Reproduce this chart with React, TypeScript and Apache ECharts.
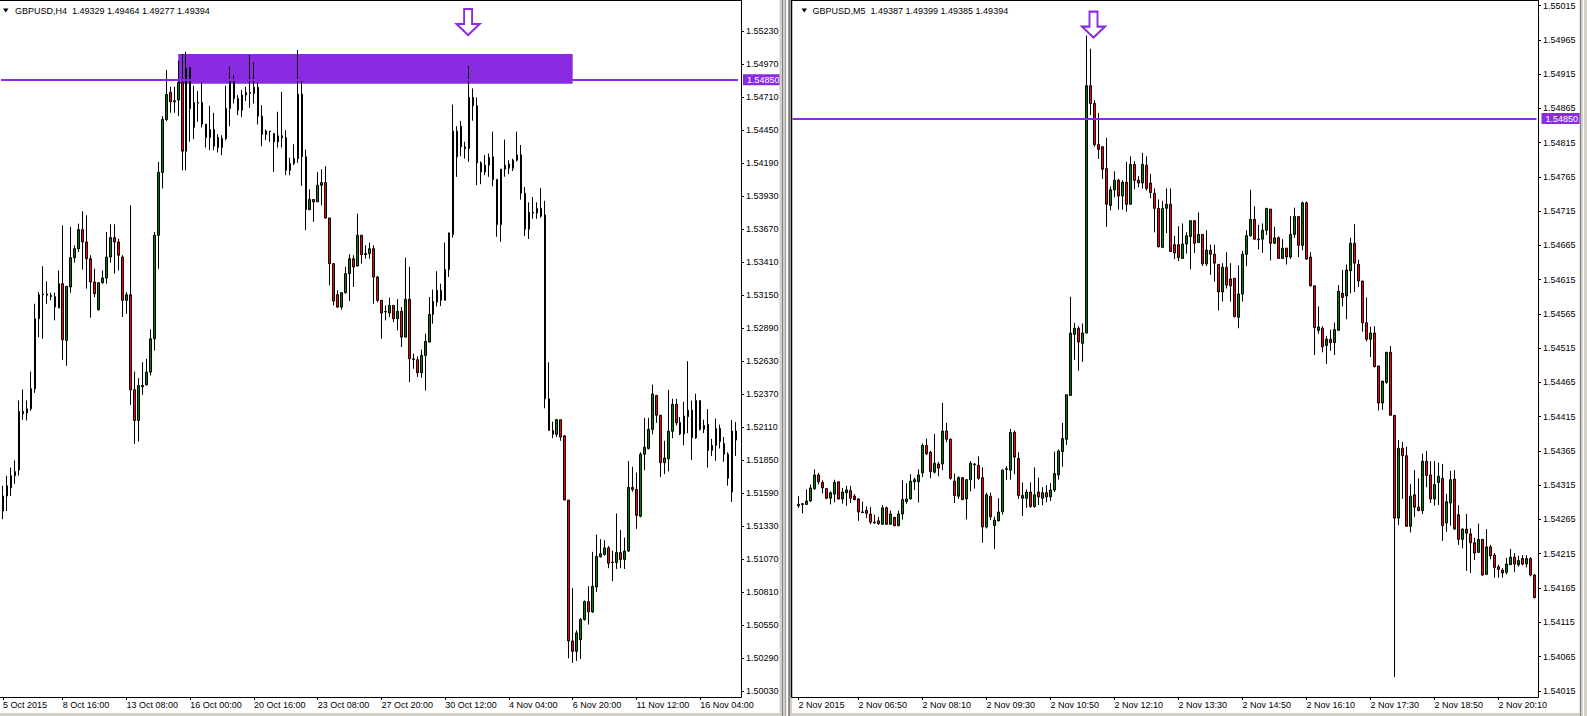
import React, { useEffect, useRef } from "react";
import * as echarts from "echarts";

// ---------- GBPUSD H4 (left window) ----------
const h4Open = [
  1.51450,1.51569,1.51633,1.51729,1.51774,1.52235,1.52224,1.52256,1.52414,1.52966,
  1.53155,1.53160,1.53150,1.53140,1.53050,1.53242,1.52795,1.53216,1.53447,1.53518,
  1.53668,1.53571,1.53439,1.53255,1.53037,1.53250,1.53287,1.53452,1.53605,1.53571,
  1.53452,1.53111,1.53155,1.52406,1.52164,1.52430,1.52445,1.52545,1.52808,1.53623,
  1.54118,1.54536,1.54749,1.54675,1.54689,1.54828,1.54286,1.54946,1.54473,1.54670,
  1.54670,1.54499,1.54394,1.54457,1.54394,1.54315,1.54386,1.54623,1.54833,1.54702,
  1.54610,1.54728,1.54749,1.54741,1.54789,1.54562,1.54418,1.54444,1.54426,1.54360,
  1.54407,1.54394,1.54136,1.54189,1.54228,1.54736,1.54242,1.53826,1.53905,1.53887,
  1.54018,1.54039,1.53760,1.53400,1.53155,1.53058,1.53171,1.53321,1.53439,1.53381,
  1.53624,1.53471,1.53479,1.53518,1.53295,1.53111,1.53024,1.53011,1.53071,1.52966,
  1.53024,1.52821,1.53119,1.52650,1.52643,1.52540,1.52677,1.52782,1.53000,1.53097,
  1.53190,1.53111,1.53353,1.53629,1.54444,1.54483,1.54320,1.54307,1.54710,1.54644,
  1.54194,1.54123,1.54176,1.54242,1.54064,1.53708,1.54145,1.54185,1.54152,1.54215,
  1.54257,1.53955,1.53672,1.53805,1.53799,1.53835,1.53784,1.52335,1.52085,1.52055,
  1.52170,1.52043,1.51537,1.50427,1.50345,1.50436,1.50596,1.50737,1.50656,1.50852,
  1.51090,1.51108,1.51160,1.51048,1.51045,1.51123,1.51069,1.51135,1.51636,1.51621,
  1.51410,1.51898,1.51944,1.52094,1.52360,1.52206,1.51832,1.51862,1.52079,1.52291,
  1.52149,1.52058,1.52194,1.52245,1.52028,1.52321,1.52094,1.52134,1.51929,1.51968,
  1.52101,1.51983,1.51898,1.51600,1.52081,
];
const h4High = [
  1.51649,1.51729,1.51793,1.51849,1.52322,1.52408,1.52322,1.52550,1.53084,1.53176,
  1.53379,1.53261,1.53171,1.53171,1.53347,1.53702,1.53221,1.53689,1.53544,1.53715,
  1.53813,1.53781,1.53466,1.53360,1.53255,1.53347,1.53650,1.53710,1.53710,1.53597,
  1.53466,1.53176,1.53860,1.52550,1.52498,1.52624,1.52650,1.52882,1.53650,1.54202,
  1.54562,1.54925,1.54794,1.54794,1.54999,1.55052,1.55070,1.54946,1.54802,1.54760,
  1.54828,1.54499,1.54644,1.54589,1.54420,1.54412,1.54802,1.54952,1.54886,1.54728,
  1.54768,1.54794,1.55044,1.54986,1.54828,1.54649,1.54457,1.54444,1.54426,1.54597,
  1.54754,1.54452,1.54236,1.54341,1.55083,1.54852,1.54299,1.53986,1.53905,1.54123,
  1.54144,1.54168,1.53760,1.53400,1.53190,1.53171,1.53374,1.53474,1.53466,1.53794,
  1.53624,1.53545,1.53566,1.53545,1.53303,1.53111,1.53071,1.53132,1.53071,1.53119,
  1.53058,1.53447,1.53374,1.52690,1.52669,1.52722,1.52848,1.53137,1.53195,1.53340,
  1.53242,1.53566,1.53645,1.54654,1.54483,1.54523,1.54360,1.54957,1.54781,1.54710,
  1.54207,1.54255,1.54268,1.54441,1.54064,1.54145,1.54378,1.54215,1.54227,1.54441,
  1.54335,1.54004,1.53883,1.53925,1.53883,1.53995,1.53895,1.52622,1.52155,1.52176,
  1.52170,1.52049,1.51537,1.50843,1.50511,1.50608,1.50746,1.50858,1.51129,1.51265,
  1.51229,1.51220,1.51175,1.51138,1.51431,1.51301,1.51241,1.51844,1.51799,1.51754,
  1.51913,1.52185,1.52185,1.52447,1.52366,1.52206,1.52004,1.52405,1.52335,1.52335,
  1.52191,1.52312,1.52631,1.52321,1.52375,1.52321,1.52170,1.52254,1.52019,1.52179,
  1.52131,1.52034,1.51913,1.52168,1.52152,
];
const h4Low = [
  1.51386,1.51450,1.51569,1.51665,1.51730,1.52169,1.52164,1.52240,1.52382,1.52821,
  1.52808,1.53084,1.53111,1.52953,1.53050,1.52642,1.52595,1.53171,1.53408,1.53492,
  1.53353,1.53203,1.52974,1.53137,1.53030,1.53242,1.53242,1.53408,1.53321,1.53347,
  1.52979,1.53005,1.52287,1.51980,1.51998,1.52366,1.52440,1.52519,1.52716,1.53360,
  1.53992,1.54523,1.54589,1.54589,1.54562,1.54136,1.54136,1.54360,1.54381,1.54518,
  1.54473,1.54315,1.54294,1.54294,1.54276,1.54255,1.54373,1.54483,1.54662,1.54570,
  1.54557,1.54681,1.54628,1.54662,1.54497,1.54326,1.54373,1.54360,1.54123,1.54315,
  1.54315,1.54097,1.54097,1.54176,1.54194,1.54013,1.53663,1.53821,1.53729,1.53887,
  1.53860,1.53755,1.53229,1.53071,1.53050,1.53037,1.53164,1.53105,1.53216,1.53381,
  1.53400,1.53439,1.53439,1.53084,1.53097,1.52808,1.52953,1.52979,1.52940,1.52874,
  1.52743,1.52821,1.52466,1.52572,1.52506,1.52500,1.52400,1.52782,1.52927,1.53063,
  1.53066,1.53111,1.53295,1.53605,1.54084,1.54247,1.54228,1.54202,1.54526,1.54018,
  1.54026,1.54097,1.54084,1.54010,1.53612,1.53572,1.54085,1.54106,1.54130,1.54206,
  1.53904,1.53618,1.53594,1.53753,1.53753,1.53762,1.52260,1.52085,1.52025,1.52034,
  1.52004,1.51537,1.50290,1.50254,1.50270,1.50285,1.50587,1.50556,1.50647,1.50813,
  1.51084,1.51099,1.51000,1.50897,1.50994,1.51000,1.50994,1.51129,1.51603,1.51310,
  1.51401,1.51772,1.51935,1.52055,1.52146,1.51718,1.51742,1.51763,1.52025,1.52125,
  1.52049,1.51968,1.52064,1.51853,1.52019,1.52085,1.52064,1.51793,1.51883,1.51847,
  1.51944,1.51838,1.51651,1.51522,1.51884,
];
const h4Close = [
  1.51569,1.51649,1.51729,1.51761,1.52235,1.52216,1.52256,1.52414,1.52966,1.53155,
  1.53160,1.53150,1.53140,1.53058,1.53242,1.52800,1.53221,1.53447,1.53518,1.53668,
  1.53571,1.53439,1.53255,1.53163,1.53250,1.53287,1.53452,1.53605,1.53571,1.53466,
  1.53111,1.53155,1.52406,1.52164,1.52440,1.52440,1.52545,1.52808,1.53623,1.54118,
  1.54536,1.54733,1.54675,1.54683,1.54828,1.54286,1.54938,1.54623,1.54670,1.54665,
  1.54499,1.54394,1.54457,1.54326,1.54315,1.54386,1.54623,1.54833,1.54702,1.54610,
  1.54728,1.54749,1.54741,1.54789,1.54562,1.54418,1.54444,1.54439,1.54360,1.54407,
  1.54391,1.54136,1.54189,1.54228,1.54736,1.54242,1.53826,1.53905,1.53887,1.54018,
  1.54039,1.53760,1.53400,1.53105,1.53058,1.53171,1.53321,1.53439,1.53374,1.53624,
  1.53471,1.53479,1.53518,1.53295,1.53111,1.53011,1.53020,1.53071,1.52966,1.53024,
  1.52821,1.53119,1.52650,1.52645,1.52540,1.52677,1.52787,1.53000,1.53103,1.53190,
  1.53111,1.53353,1.53642,1.54444,1.54242,1.54320,1.54307,1.54710,1.54644,1.54194,
  1.54123,1.54176,1.54236,1.54064,1.53708,1.54145,1.54176,1.54152,1.54215,1.54257,
  1.53955,1.53672,1.53805,1.53800,1.53835,1.53774,1.52335,1.52085,1.52055,1.52170,
  1.52034,1.51537,1.50427,1.50345,1.50490,1.50596,1.50737,1.50656,1.50858,1.51093,
  1.51114,1.51160,1.51039,1.51045,1.51123,1.51069,1.51135,1.51636,1.51621,1.51416,
  1.51898,1.51953,1.52094,1.52372,1.52206,1.51832,1.51868,1.52079,1.52291,1.52146,
  1.52058,1.52200,1.52245,1.52028,1.52321,1.52094,1.52125,1.51929,1.51968,1.52101,
  1.51998,1.51898,1.51709,1.52081,1.52010,
];

// ---------- GBPUSD M5 (right window) ----------
const m5Open = [
  1.54287,1.54288,1.54287,1.54292,1.54310,1.54330,1.54319,1.54310,1.54296,1.54302,
  1.54320,1.54295,1.54304,1.54307,1.54299,1.54295,1.54276,1.54278,1.54273,1.54261,
  1.54263,1.54258,1.54282,1.54258,1.54268,1.54256,1.54273,1.54291,1.54295,1.54320,
  1.54320,1.54333,1.54373,1.54363,1.54334,1.54346,1.54346,1.54394,1.54382,1.54321,
  1.54299,1.54326,1.54295,1.54323,1.54346,1.54344,1.54326,1.54254,1.54299,1.54256,
  1.54263,1.54276,1.54339,1.54337,1.54392,1.54354,1.54296,1.54296,1.54305,1.54284,
  1.54305,1.54296,1.54304,1.54298,1.54308,1.54330,1.54364,1.54382,1.54446,1.54535,
  1.54544,1.54522,1.54537,1.54898,1.54872,1.54812,1.54809,1.54777,1.54723,1.54746,
  1.54760,1.54737,1.54757,1.54725,1.54783,1.54760,1.54756,1.54782,1.54756,1.54741,
  1.54719,1.54662,1.54719,1.54725,1.54666,1.54666,1.54646,1.54667,1.54678,1.54701,
  1.54669,1.54681,1.54638,1.54658,1.54652,1.54637,1.54597,1.54633,1.54616,1.54617,
  1.54560,1.54594,1.54652,1.54679,1.54703,1.54674,1.54674,1.54687,1.54718,1.54668,
  1.54676,1.54646,1.54661,1.54648,1.54681,1.54707,1.54665,1.54727,1.54648,1.54606,
  1.54541,1.54544,1.54519,1.54528,1.54523,1.54541,1.54595,1.54591,1.54628,1.54668,
  1.54637,1.54613,1.54552,1.54528,1.54537,1.54489,1.54435,1.54465,1.54509,1.54417,
  1.54267,1.54369,1.54358,1.54255,1.54301,1.54283,1.54278,1.54350,1.54330,1.54295,
  1.54319,1.54325,1.54260,1.54289,1.54324,1.54272,1.54236,1.54251,1.54244,1.54231,
  1.54217,1.54236,1.54185,1.54225,1.54213,1.54196,1.54191,1.54188,1.54199,1.54210,
  1.54199,1.54208,1.54200,1.54208,1.54184,
];
const m5High = [
  1.54299,1.54289,1.54309,1.54316,1.54338,1.54333,1.54322,1.54311,1.54306,1.54323,
  1.54320,1.54311,1.54314,1.54314,1.54302,1.54296,1.54291,1.54284,1.54283,1.54272,
  1.54269,1.54286,1.54284,1.54278,1.54269,1.54278,1.54322,1.54318,1.54331,1.54326,
  1.54338,1.54376,1.54383,1.54365,1.54390,1.54349,1.54435,1.54406,1.54383,1.54332,
  1.54328,1.54327,1.54324,1.54350,1.54347,1.54357,1.54341,1.54304,1.54304,1.54269,
  1.54296,1.54338,1.54343,1.54397,1.54395,1.54363,1.54319,1.54309,1.54319,1.54341,
  1.54326,1.54312,1.54315,1.54318,1.54364,1.54367,1.54406,1.54447,1.54590,1.54552,
  1.54547,1.54551,1.54971,1.54952,1.54877,1.54858,1.54809,1.54822,1.54751,1.54773,
  1.54762,1.54760,1.54787,1.54795,1.54788,1.54766,1.54800,1.54795,1.54769,1.54748,
  1.54732,1.54730,1.54748,1.54748,1.54679,1.54693,1.54697,1.54684,1.54701,1.54701,
  1.54713,1.54681,1.54687,1.54666,1.54666,1.54637,1.54639,1.54655,1.54639,1.54617,
  1.54636,1.54657,1.54687,1.54746,1.54722,1.54695,1.54697,1.54719,1.54718,1.54692,
  1.54678,1.54674,1.54661,1.54708,1.54720,1.54707,1.54729,1.54729,1.54655,1.54606,
  1.54576,1.54547,1.54533,1.54542,1.54552,1.54607,1.54629,1.54637,1.54676,1.54696,
  1.54644,1.54613,1.54589,1.54546,1.54547,1.54489,1.54467,1.54509,1.54518,1.54417,
  1.54381,1.54378,1.54371,1.54317,1.54337,1.54325,1.54361,1.54365,1.54350,1.54350,
  1.54348,1.54346,1.54302,1.54336,1.54337,1.54286,1.54252,1.54273,1.54252,1.54238,
  1.54259,1.54236,1.54251,1.54228,1.54216,1.54199,1.54194,1.54209,1.54222,1.54216,
  1.54212,1.54213,1.54213,1.54210,1.54185,
];
const m5Low = [
  1.54282,1.54274,1.54287,1.54291,1.54308,1.54316,1.54303,1.54295,1.54287,1.54290,
  1.54294,1.54288,1.54285,1.54289,1.54293,1.54263,1.54275,1.54267,1.54258,1.54259,
  1.54257,1.54258,1.54257,1.54257,1.54255,1.54255,1.54265,1.54288,1.54294,1.54308,
  1.54290,1.54327,1.54359,1.54325,1.54332,1.54328,1.54337,1.54378,1.54323,1.54289,
  1.54295,1.54293,1.54265,1.54306,1.54310,1.54323,1.54231,1.54252,1.54264,1.54222,
  1.54262,1.54272,1.54323,1.54323,1.54331,1.54295,1.54270,1.54282,1.54282,1.54282,
  1.54286,1.54286,1.54290,1.54292,1.54305,1.54323,1.54342,1.54374,1.54446,1.54498,
  1.54482,1.54495,1.54537,1.54855,1.54809,1.54791,1.54762,1.54692,1.54716,1.54735,
  1.54717,1.54717,1.54714,1.54725,1.54747,1.54750,1.54748,1.54745,1.54734,1.54684,
  1.54662,1.54662,1.54683,1.54656,1.54645,1.54642,1.54646,1.54653,1.54630,1.54654,
  1.54669,1.54635,1.54635,1.54622,1.54612,1.54570,1.54583,1.54602,1.54583,1.54560,
  1.54544,1.54583,1.54635,1.54678,1.54673,1.54659,1.54654,1.54680,1.54643,1.54667,
  1.54646,1.54646,1.54637,1.54645,1.54676,1.54648,1.54658,1.54644,1.54605,1.54505,
  1.54536,1.54509,1.54492,1.54511,1.54505,1.54541,1.54576,1.54557,1.54595,1.54597,
  1.54604,1.54539,1.54525,1.54502,1.54487,1.54424,1.54425,1.54463,1.54417,1.54035,
  1.54257,1.54295,1.54254,1.54246,1.54269,1.54277,1.54273,1.54312,1.54289,1.54285,
  1.54286,1.54234,1.54247,1.54256,1.54250,1.54228,1.54223,1.54190,1.54187,1.54206,
  1.54216,1.54183,1.54184,1.54207,1.54180,1.54180,1.54180,1.54185,1.54199,1.54188,
  1.54196,1.54198,1.54195,1.54182,1.54150,
];
const m5Close = [
  1.54285,1.54287,1.54292,1.54311,1.54330,1.54320,1.54311,1.54296,1.54304,1.54319,
  1.54295,1.54305,1.54308,1.54296,1.54294,1.54276,1.54275,1.54274,1.54261,1.54260,
  1.54259,1.54282,1.54258,1.54273,1.54256,1.54273,1.54294,1.54295,1.54321,1.54323,
  1.54330,1.54373,1.54361,1.54335,1.54347,1.54340,1.54394,1.54382,1.54325,1.54300,
  1.54326,1.54294,1.54323,1.54347,1.54345,1.54325,1.54254,1.54301,1.54269,1.54264,
  1.54276,1.54337,1.54338,1.54392,1.54356,1.54300,1.54300,1.54305,1.54284,1.54301,
  1.54298,1.54304,1.54298,1.54308,1.54332,1.54365,1.54383,1.54447,1.54537,1.54544,
  1.54524,1.54537,1.54898,1.54872,1.54812,1.54805,1.54776,1.54725,1.54746,1.54760,
  1.54737,1.54757,1.54725,1.54783,1.54760,1.54756,1.54783,1.54748,1.54742,1.54719,
  1.54663,1.54719,1.54725,1.54656,1.54654,1.54647,1.54667,1.54679,1.54701,1.54668,
  1.54681,1.54638,1.54658,1.54652,1.54639,1.54597,1.54633,1.54607,1.54606,1.54561,
  1.54594,1.54652,1.54679,1.54703,1.54674,1.54673,1.54687,1.54719,1.54668,1.54676,
  1.54646,1.54661,1.54648,1.54681,1.54707,1.54665,1.54727,1.54645,1.54606,1.54545,
  1.54546,1.54517,1.54528,1.54523,1.54542,1.54598,1.54589,1.54629,1.54668,1.54639,
  1.54613,1.54552,1.54528,1.54537,1.54488,1.54435,1.54467,1.54509,1.54417,1.54267,
  1.54369,1.54358,1.54255,1.54299,1.54283,1.54278,1.54350,1.54329,1.54295,1.54316,
  1.54328,1.54256,1.54291,1.54323,1.54251,1.54236,1.54251,1.54245,1.54231,1.54216,
  1.54236,1.54184,1.54225,1.54212,1.54195,1.54192,1.54187,1.54200,1.54210,1.54200,
  1.54205,1.54200,1.54208,1.54184,1.54151,
];

// ---------- axis texts ----------
const timeLabelBars = [0, 15, 31, 47, 63, 79, 95, 111, 127, 143, 159, 175];
const h4TimeLabels = [
  "5 Oct 2015", "8 Oct 16:00", "13 Oct 08:00", "16 Oct 00:00", "20 Oct 16:00", "23 Oct 08:00",
  "27 Oct 20:00", "30 Oct 12:00", "4 Nov 04:00", "6 Nov 20:00", "11 Nov 12:00", "16 Nov 04:00",
];
const m5TimeLabels = [
  "2 Nov 2015", "2 Nov 06:50", "2 Nov 08:10", "2 Nov 09:30", "2 Nov 10:50", "2 Nov 12:10",
  "2 Nov 13:30", "2 Nov 14:50", "2 Nov 16:10", "2 Nov 17:30", "2 Nov 18:50", "2 Nov 20:10",
];
const h4PriceLabels = [
  1.55230, 1.54970, 1.54710, 1.54450, 1.54190, 1.53930, 1.53670, 1.53410, 1.53150, 1.52890, 1.52630,
  1.52370, 1.52110, 1.51850, 1.51590, 1.51330, 1.51070, 1.50810, 1.50550, 1.50290, 1.50030,
];
const m5PriceLabels = [
  1.55015, 1.54965, 1.54915, 1.54865, 1.54815, 1.54765, 1.54715, 1.54665, 1.54615, 1.54565, 1.54515,
  1.54465, 1.54415, 1.54365, 1.54315, 1.54265, 1.54215, 1.54165, 1.54115, 1.54065, 1.54015,
];
const h4Extent = [1.499851, 1.554696];
const m5Extent = [1.5400595, 1.5502157];

// ---------- annotations ----------
const levelPrice = 1.5485;
const h4ZoneBars = [44, 143];
const h4ZonePrices = [1.55052, 1.54817];
const h4ArrowBar = 117;
const m5ArrowBar = 72;
const h4Header = "GBPUSD,H4\u00a0\u00a01.49329 1.49464 1.49277 1.49394";
const m5Header = "GBPUSD,M5\u00a0\u00a01.49387 1.49399 1.49385 1.49394";

const FONT = "'Liberation Sans', Arial, sans-serif";
const PURPLE = "#8a2be2";
const ARROW = "path://M7.5,0L15.5,0L15.5,15L23,15L11.5,26L0,15L7.5,15Z";

export default function App() {
  const ref = useRef<HTMLDivElement>(null);

  useEffect(() => {
    const chart = echarts.init(ref.current!, null, { renderer: "svg" });

    const h4Cats = h4Open.map((_, i) => String(i));
    const h4Candles = h4Open.map((o, i) => [o, h4Close[i], h4Low[i], h4High[i]]);
    const m5Cats = ["pad", ...m5Open.map((_, i) => String(i))];
    const m5Candles: any[] = ["-", ...m5Open.map((o, i) => [o, m5Close[i], m5Low[i], m5High[i]])];

    const isTickBar = (_i: number, v: string) => timeLabelBars.indexOf(Number(v)) >= 0;
    const labelFor = (labels: string[]) => (v: string) => {
      const k = timeLabelBars.indexOf(Number(v));
      return k >= 0 ? labels[k] : "";
    };

    const xAxisBase = (grid: number, data: string[], labels: string[]) => ({
      type: "category",
      gridIndex: grid,
      data,
      boundaryGap: true,
      axisLine: { show: false },
      axisTick: { show: true, alignWithLabel: true, interval: isTickBar, length: 3, lineStyle: { color: "#000", width: 1 } },
      axisLabel: {
        interval: isTickBar,
        formatter: labelFor(labels),
        align: "left",
        margin: 3,
        color: "#000",
        fontFamily: FONT,
        fontSize: 9,
      },
      splitLine: { show: false },
    });

    const yAxisBase = (grid: number, ext: number[], ticks: number[], offset: number) => ({
      type: "value",
      gridIndex: grid,
      position: "right",
      min: ext[0],
      max: ext[1],
      offset,
      axisLine: { show: false },
      splitLine: { show: false },
      axisTick: { show: true, customValues: ticks, length: 3, lineStyle: { color: "#000", width: 1 } },
      axisLabel: {
        customValues: ticks,
        formatter: (v: number) => v.toFixed(5),
        margin: 5,
        color: "#000",
        fontFamily: FONT,
        fontSize: 9,
      },
    });

    const candleStyle = {
      color: "#008000",
      color0: "#ff0000",
      borderColor: "#000",
      borderColor0: "#000",
      borderWidth: 1,
    };

    const makeLevelLine = () => ({
      silent: true,
      precision: 5,
      symbol: ["none", "none"],
      lineStyle: { color: PURPLE, width: 2, type: "solid" },
      label: {
        show: true,
        position: "end",
        distance: 5,
        formatter: () => levelPrice.toFixed(5),
        color: "#fff",
        backgroundColor: PURPLE,
        padding: [1, 4, 0, 4],
        fontFamily: FONT,
        fontSize: 9,
        lineHeight: 10,
      },
      emphasis: { disabled: true },
      data: [{ yAxis: levelPrice }],
    });

    const arrowStyle = { color: "#fff", borderColor: PURPLE, borderWidth: 2 };

    const option: any = {
      animation: false,
      backgroundColor: "#fff",
      grid: [
        { left: -2, top: 1, width: 740, height: 696 },
        { left: 792.5, top: 1, width: 744, height: 696 },
      ],
      xAxis: [xAxisBase(0, h4Cats, h4TimeLabels), xAxisBase(1, m5Cats, m5TimeLabels)],
      yAxis: [
        yAxisBase(0, h4Extent, h4PriceLabels, 3),
        yAxisBase(1, m5Extent, m5PriceLabels, 1.5),
      ],
      series: [
        {
          type: "candlestick",
          xAxisIndex: 0,
          yAxisIndex: 0,
          data: h4Candles,
          barWidth: 2,
          itemStyle: candleStyle,
          z: 3,
          markArea: {
            silent: true,
            z: 1,
            itemStyle: { color: PURPLE, opacity: 1, borderWidth: 0 },
            data: [[
              { coord: [String(h4ZoneBars[0]), h4ZonePrices[0]] },
              { coord: [String(h4ZoneBars[1]), h4ZonePrices[1]] },
            ]],
          },
          markLine: makeLevelLine(),
          markPoint: {
            silent: true,
            symbol: ARROW,
            symbolSize: [23, 26],
            itemStyle: arrowStyle,
            label: { show: false },
            data: [{ coord: [String(h4ArrowBar), h4High[h4ArrowBar]], symbolOffset: [-1, -44] }],
          },
        },
        {
          type: "candlestick",
          xAxisIndex: 1,
          yAxisIndex: 1,
          data: m5Candles,
          barWidth: 2,
          itemStyle: candleStyle,
          z: 3,
          markLine: makeLevelLine(),
          markPoint: {
            silent: true,
            symbol: ARROW,
            symbolSize: [23, 26],
            itemStyle: arrowStyle,
            label: { show: false },
            data: [{ coord: [String(m5ArrowBar), m5High[m5ArrowBar]], symbolOffset: [7, -11] }],
          },
        },
      ],
      graphic: [
        // window frames
        { type: "rect", silent: true, z: 100, shape: { x: 779.5, y: 0, width: 12.5, height: 716 }, style: { fill: "#d4d0c8" } },
        { type: "rect", silent: true, z: 101, shape: { x: 782, y: 0, width: 1, height: 716 }, style: { fill: "#808080" } },
        { type: "rect", silent: true, z: 101, shape: { x: 785, y: 0, width: 1, height: 716 }, style: { fill: "#a0a0a0" } },
        { type: "rect", silent: true, z: 101, shape: { x: 786.3, y: 0, width: 1.7, height: 716 }, style: { fill: "#ffffff" } },
        { type: "rect", silent: true, z: 101, shape: { x: 788.3, y: 0, width: 1.7, height: 716 }, style: { fill: "#808080" } },
        { type: "rect", silent: true, z: 100, shape: { x: 1579.5, y: 0, width: 8, height: 716 }, style: { fill: "#d4d0c8" } },
        { type: "rect", silent: true, z: 101, shape: { x: 1580, y: 0, width: 1, height: 716 }, style: { fill: "#808080" } },
        { type: "rect", silent: true, z: 101, shape: { x: 1583, y: 0, width: 1, height: 716 }, style: { fill: "#ffffff" } },
        { type: "rect", silent: true, z: 100, shape: { x: 0, y: 713, width: 1587, height: 3 }, style: { fill: "#d4d0c8" } },
        // plot borders
        { type: "line", silent: true, z: 102, shape: { x1: 0, y1: 0.5, x2: 741.5, y2: 0.5 }, style: { stroke: "#000", lineWidth: 1 } },
        { type: "line", silent: true, z: 102, shape: { x1: 741.5, y1: 0, x2: 741.5, y2: 697.5 }, style: { stroke: "#000", lineWidth: 1 } },
        { type: "line", silent: true, z: 102, shape: { x1: 0, y1: 697.5, x2: 741.5, y2: 697.5 }, style: { stroke: "#000", lineWidth: 1 } },
        { type: "line", silent: true, z: 102, shape: { x1: 791.5, y1: 0.5, x2: 1538.5, y2: 0.5 }, style: { stroke: "#000", lineWidth: 1 } },
        { type: "line", silent: true, z: 102, shape: { x1: 791.5, y1: 0, x2: 791.5, y2: 697.5 }, style: { stroke: "#000", lineWidth: 1.5 } },
        { type: "line", silent: true, z: 102, shape: { x1: 1538.5, y1: 0, x2: 1538.5, y2: 697.5 }, style: { stroke: "#000", lineWidth: 1 } },
        { type: "line", silent: true, z: 102, shape: { x1: 791.5, y1: 697.5, x2: 1538.5, y2: 697.5 }, style: { stroke: "#000", lineWidth: 1 } },
        // headers
        { type: "polygon", silent: true, z: 103, shape: { points: [[3, 8.5], [8.5, 8.5], [5.75, 12.5]] }, style: { fill: "#000" } },
        { type: "text", silent: true, z: 103, x: 15, y: 10.5, style: { text: h4Header, fill: "#000", fontFamily: FONT, fontSize: 9, verticalAlign: "middle" } },
        { type: "polygon", silent: true, z: 103, shape: { points: [[801.5, 8.5], [807, 8.5], [804.25, 12.5]] }, style: { fill: "#000" } },
        { type: "text", silent: true, z: 103, x: 812.5, y: 10.5, style: { text: m5Header, fill: "#000", fontFamily: FONT, fontSize: 9, verticalAlign: "middle" } },
      ],
    };

    chart.setOption(option);
    return () => chart.dispose();
  }, []);

  return (
    <div
      ref={ref}
      style={{ position: "absolute", left: 0, top: 0, width: 1587, height: 716, background: "#fff" }}
    />
  );
}
